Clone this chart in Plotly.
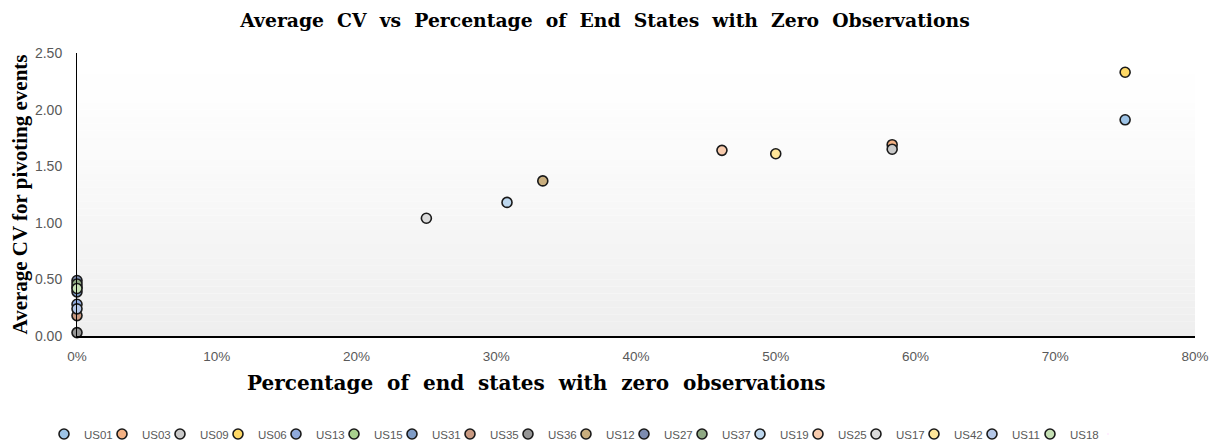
import plotly.graph_objects as go

series = ["US01", "US03", "US09", "US06", "US13", "US15", "US31", "US35", "US36",
          "US12", "US27", "US37", "US19", "US25", "US17", "US42", "US11", "US18"]
pct_zero = [0.75, 0.5833, 0.5833, 0.75, 0.0, 0.0, 0.0, 0.0, 0.0,
            0.3333, 0.0, 0.0, 0.3077, 0.4615, 0.25, 0.50, 0.0, 0.0]
avg_cv = [1.91, 1.69, 1.65, 2.33, 0.28, 0.43, 0.39, 0.18, 0.03,
          1.37, 0.49, 0.46, 1.18, 1.64, 1.04, 1.61, 0.24, 0.42]
colors = ["#9DC3E6", "#F4B183", "#C9C9C9", "#FFD966", "#8FAADC", "#A9D18E", "#7F9CC6", "#C99A82", "#969696",
          "#C9AE7E", "#7D8CB0", "#8FA983", "#BDD7EE", "#F8CBAD", "#DBDBDB", "#FFE699", "#B4C7E7", "#C5E0B4"]

x_ticks = [0, 0.1, 0.2, 0.3, 0.4, 0.5, 0.6, 0.7, 0.8]
y_ticks = [0, 0.5, 1.0, 1.5, 2.0, 2.5]

fig = go.Figure()
for name, xv, yv, c in zip(series, pct_zero, avg_cv, colors):
    fig.add_trace(go.Scatter(
        x=[xv], y=[yv], mode="markers", name=name, cliponaxis=False,
        marker=dict(size=10, color=c, line=dict(color="#1a1a1a", width=1.6)),
    ))
# empty, invisible legend spacer so the last real entry's label isn't clipped
fig.add_trace(go.Scatter(x=[None], y=[None], mode="markers", name=" ", hoverinfo="skip",
                         marker=dict(size=1, opacity=0)))

# gradient plot background
n = 40
shapes = []
for i in range(n):
    t = i / (n - 1)
    g = int(round(255 - (255 - 238) * (1 - t) ** 1.3))
    shapes.append(dict(type="rect", xref="x domain", yref="y domain",
                       x0=0, x1=1, y0=i / n, y1=(i + 1) / n,
                       fillcolor=f"rgb({g},{g},{g})", line=dict(width=0), layer="below"))

# page body has an 8px margin, so the figure is sized/offset accordingly
W, H = 1211, 436
L, R, T, B = 69, 24, 45, 108
pw = W - L - R
ph = H - T - B

spacing = 58
leg_left = 36
leg_y = -(426 - (H - B)) / ph

fig.update_layout(
    width=W, height=H,
    margin=dict(l=L, r=R, t=T, b=B, autoexpand=False),
    paper_bgcolor="white", plot_bgcolor="white",
    shapes=shapes,
    title=dict(text="<b>Average  CV  vs  Percentage  of  End  States  with  Zero  Observations</b>",
               x=597 / W, xanchor="center", y=1 - 12 / H, yanchor="middle",
               font=dict(family="DejaVu Serif", size=18.8, color="black")),
    xaxis=dict(range=[0, 0.8], tickvals=x_ticks, tickformat=".0%", automargin=False,
               showgrid=False, zeroline=False, showline=True, linecolor="black", linewidth=1.5,
               ticks="", ticklabelstandoff=7,
               tickfont=dict(family="Liberation Sans", size=13.5, color="#595959")),
    yaxis=dict(range=[0, 2.5], tickvals=y_ticks, tickformat=".2f", automargin=False,
               showgrid=False, zeroline=False, showline=True, linecolor="black", linewidth=1,
               ticks="", ticklabelstandoff=11,
               title=dict(text="<b>Average CV for pivoting events</b>", standoff=10,
                          font=dict(family="Liberation Serif", size=21, color="black")),
               tickfont=dict(family="Liberation Sans", size=14, color="#595959")),
    legend=dict(orientation="h", x=(leg_left - L) / pw, xanchor="left",
                y=leg_y, yanchor="middle",
                entrywidth=spacing - 45, itemwidth=30,
                font=dict(family="Liberation Sans", size=11.5, color="#595959")),
    annotations=[dict(text="<b>Percentage  of  end  states  with  zero  observations</b>",
                      xref="paper", yref="paper", x=(528 - L) / pw, y=-(375 - (H - B)) / ph,
                      xanchor="center", yanchor="middle", showarrow=False,
                      font=dict(family="DejaVu Serif", size=20, color="black"))],
)

fig.write_html("out.html")
